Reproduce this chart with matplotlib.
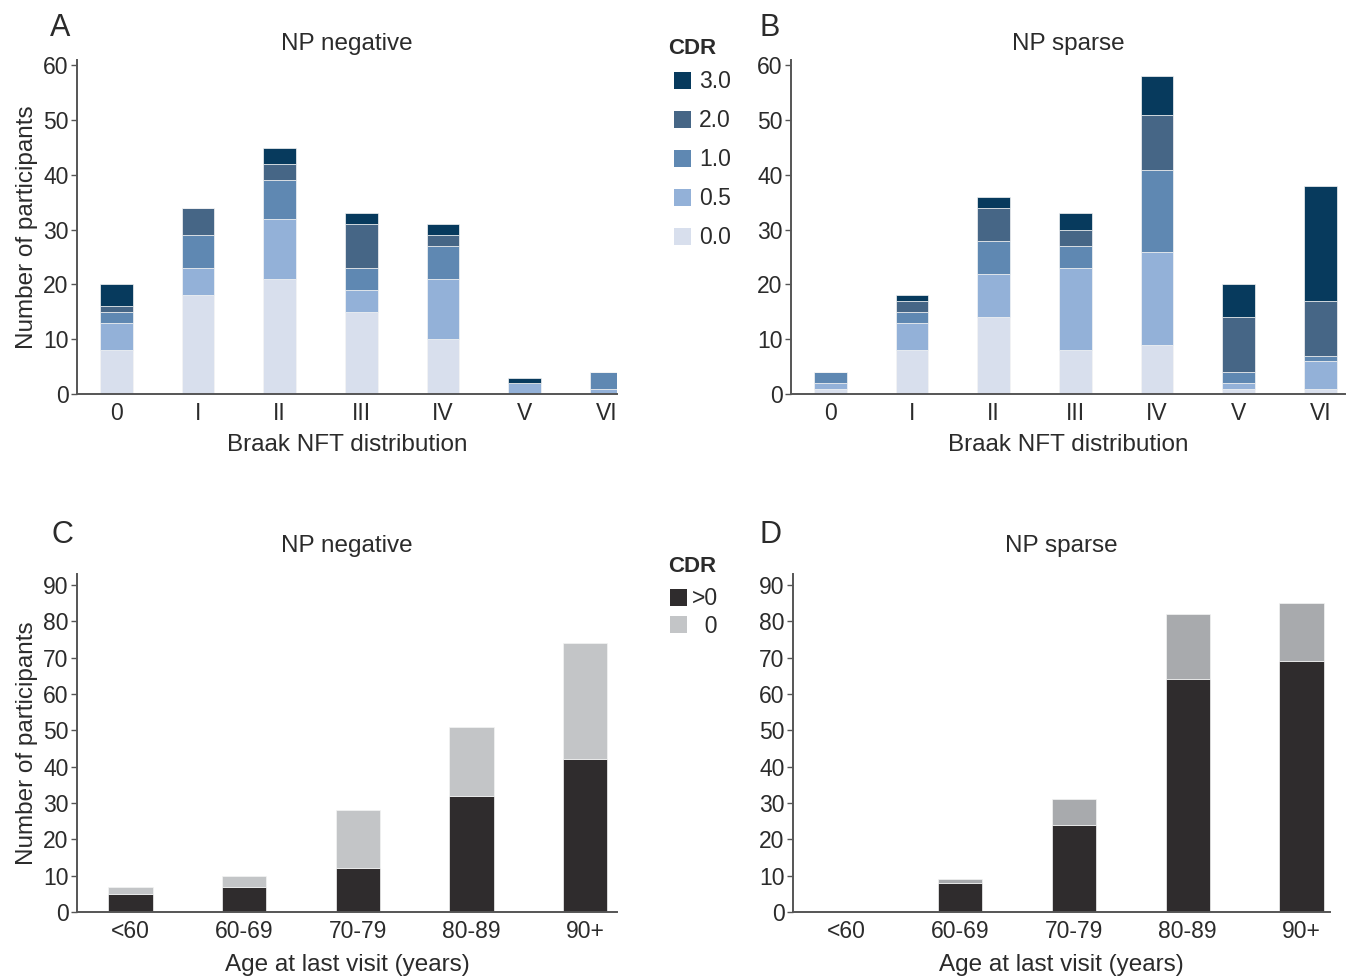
import matplotlib
matplotlib.use("Agg")
from matplotlib import pyplot as plt
from matplotlib.patches import Patch
import numpy as np

plt.rcParams['font.family'] = ['Liberation Sans', 'DejaVu Sans']
plt.rcParams['text.color'] = '#2b2b2b'
plt.rcParams['axes.labelcolor'] = '#2b2b2b'
plt.rcParams['xtick.color'] = '#2b2b2b'
plt.rcParams['ytick.color'] = '#2b2b2b'

# data
braak = ["0", "I", "II", "III", "IV", "V", "VI"]
cdr_levels = ["0.0", "0.5", "1.0", "2.0", "3.0"]
cdr_colors = ["#d8dfed", "#93b1d8", "#5f88b2", "#466686", "#073a5d"]

# NP negative, counts per CDR level
neg_cdr00 = [8, 18, 21, 15, 10, 0, 0]
neg_cdr05 = [5, 5, 11, 4, 11, 2, 1]
neg_cdr10 = [2, 6, 7, 4, 6, 0, 3]
neg_cdr20 = [1, 5, 3, 8, 2, 0, 0]
neg_cdr30 = [4, 0, 3, 2, 2, 1, 0]

# NP sparse
sp_cdr00 = [1, 8, 14, 8, 9, 1, 1]
sp_cdr05 = [1, 5, 8, 15, 17, 1, 5]
sp_cdr10 = [2, 2, 6, 4, 15, 2, 1]
sp_cdr20 = [0, 2, 6, 3, 10, 10, 10]
sp_cdr30 = [0, 1, 2, 3, 7, 6, 21]

ages = ["<60", "60-69", "70-79", "80-89", "90+"]
neg_pos = [5, 7, 12, 32, 42]    # CDR > 0
neg_zero = [2, 3, 16, 19, 32]   # CDR 0
sp_pos = [0, 8, 24, 64, 69]
sp_zero = [0, 1, 7, 18, 16]

W, H = 1353, 976
fig = plt.figure(figsize=(W / 100, H / 100), dpi=100)

TICK = 16.5
LAB = 17.5


def px_axes(left, right, top, bottom):
    return fig.add_axes([left / W, 1 - bottom / H, (right - left) / W, (bottom - top) / H])


def style(ax, ymax, yticks):
    for s in ["top", "right"]:
        ax.spines[s].set_visible(False)
    for s in ["left", "bottom"]:
        ax.spines[s].set_color("#555555")
        ax.spines[s].set_linewidth(1.4)
    ax.set_ylim(0, ymax)
    ax.set_yticks(yticks)
    ax.tick_params(axis="y", length=4, width=1, labelsize=TICK, pad=2, color="#555555")
    ax.tick_params(axis="x", length=0, labelsize=TICK, pad=6)


def stack(ax, cats, series, colors, width):
    x = np.arange(len(cats))
    bottom = np.zeros(len(cats))
    for vals, c in zip(series, colors):
        ax.bar(x, vals, width, bottom=bottom, color=c, edgecolor="#f4f4f4", linewidth=0.5)
        bottom += np.array(vals)
    ax.set_xticks(x)
    ax.set_xticklabels(cats)


# panel A
axA = px_axes(77, 617, 60, 394)
stack(axA, braak, [neg_cdr00, neg_cdr05, neg_cdr10, neg_cdr20, neg_cdr30], cdr_colors, 0.4)
axA.set_xlim(-0.48, 6.13)
style(axA, 61, range(0, 61, 10))
axA.set_title("NP negative", fontsize=LAB, pad=7)
axA.set_xlabel("Braak NFT distribution", fontsize=LAB, labelpad=6)
axA.set_ylabel("Number of participants", fontsize=LAB, labelpad=4)

# panel B
axB = px_axes(791, 1345, 60, 394)
stack(axB, braak, [sp_cdr00, sp_cdr05, sp_cdr10, sp_cdr20, sp_cdr30], cdr_colors, 0.4)
axB.set_xlim(-0.48, 6.3)
style(axB, 61, range(0, 61, 10))
axB.set_title("NP sparse", fontsize=LAB, pad=7)
axB.set_xlabel("Braak NFT distribution", fontsize=LAB, labelpad=6)

# panel C
axC = px_axes(77, 617, 574, 912)
stack(axC, ages, [neg_pos, neg_zero], ["#2f2c2d", "#c3c5c7"], 0.39)
axC.set_xlim(-0.47, 4.28)
style(axC, 93, range(0, 91, 10))
axC.set_title("NP negative", fontsize=LAB, pad=16)
axC.set_xlabel("Age at last visit (years)", fontsize=LAB, labelpad=8)
axC.set_ylabel("Number of participants", fontsize=LAB, labelpad=4)

# panel D
axD = px_axes(793, 1330, 574, 912)
stack(axD, ages, [sp_pos, sp_zero], ["#2f2c2d", "#a8aaad"], 0.39)
axD.set_xlim(-0.47, 4.25)
style(axD, 93, range(0, 91, 10))
axD.set_title("NP sparse", fontsize=LAB, pad=16)
axD.set_xlabel("Age at last visit (years)", fontsize=LAB, labelpad=8)

# panel letters
for lab, x, y in [("A", 60, 28), ("B", 770, 28), ("C", 62, 535), ("D", 770, 535)]:
    fig.text(x / W, 1 - y / H, lab, fontsize=22, ha="center", va="center")

# legends
fig.text(692 / W, 1 - 49 / H, "CDR", fontsize=16, fontweight="bold", ha="center", va="center")
h1 = [Patch(facecolor=c, edgecolor="none") for c in cdr_colors[::-1]]
fig.legend(h1, cdr_levels[::-1], loc="upper left",
           bbox_to_anchor=(665 / W, 1 - 61 / H), frameon=False, fontsize=TICK,
           labelspacing=0.7, handlelength=0.75, handleheight=0.75,
           handletextpad=0.35, borderaxespad=0)

fig.text(692 / W, 1 - 566 / H, "CDR", fontsize=16, fontweight="bold", ha="center", va="center")
h2 = [Patch(facecolor="#2f2c2d", edgecolor="none"), Patch(facecolor="#c3c5c7", edgecolor="none")]
fig.legend(h2, [">0", "  0"], loc="upper left",
           bbox_to_anchor=(661 / W, 1 - 578 / H), frameon=False, fontsize=TICK,
           labelspacing=0.2, handlelength=0.75, handleheight=0.75,
           handletextpad=0.2, borderaxespad=0)

fig.savefig("out.png", dpi=100, facecolor="white")
